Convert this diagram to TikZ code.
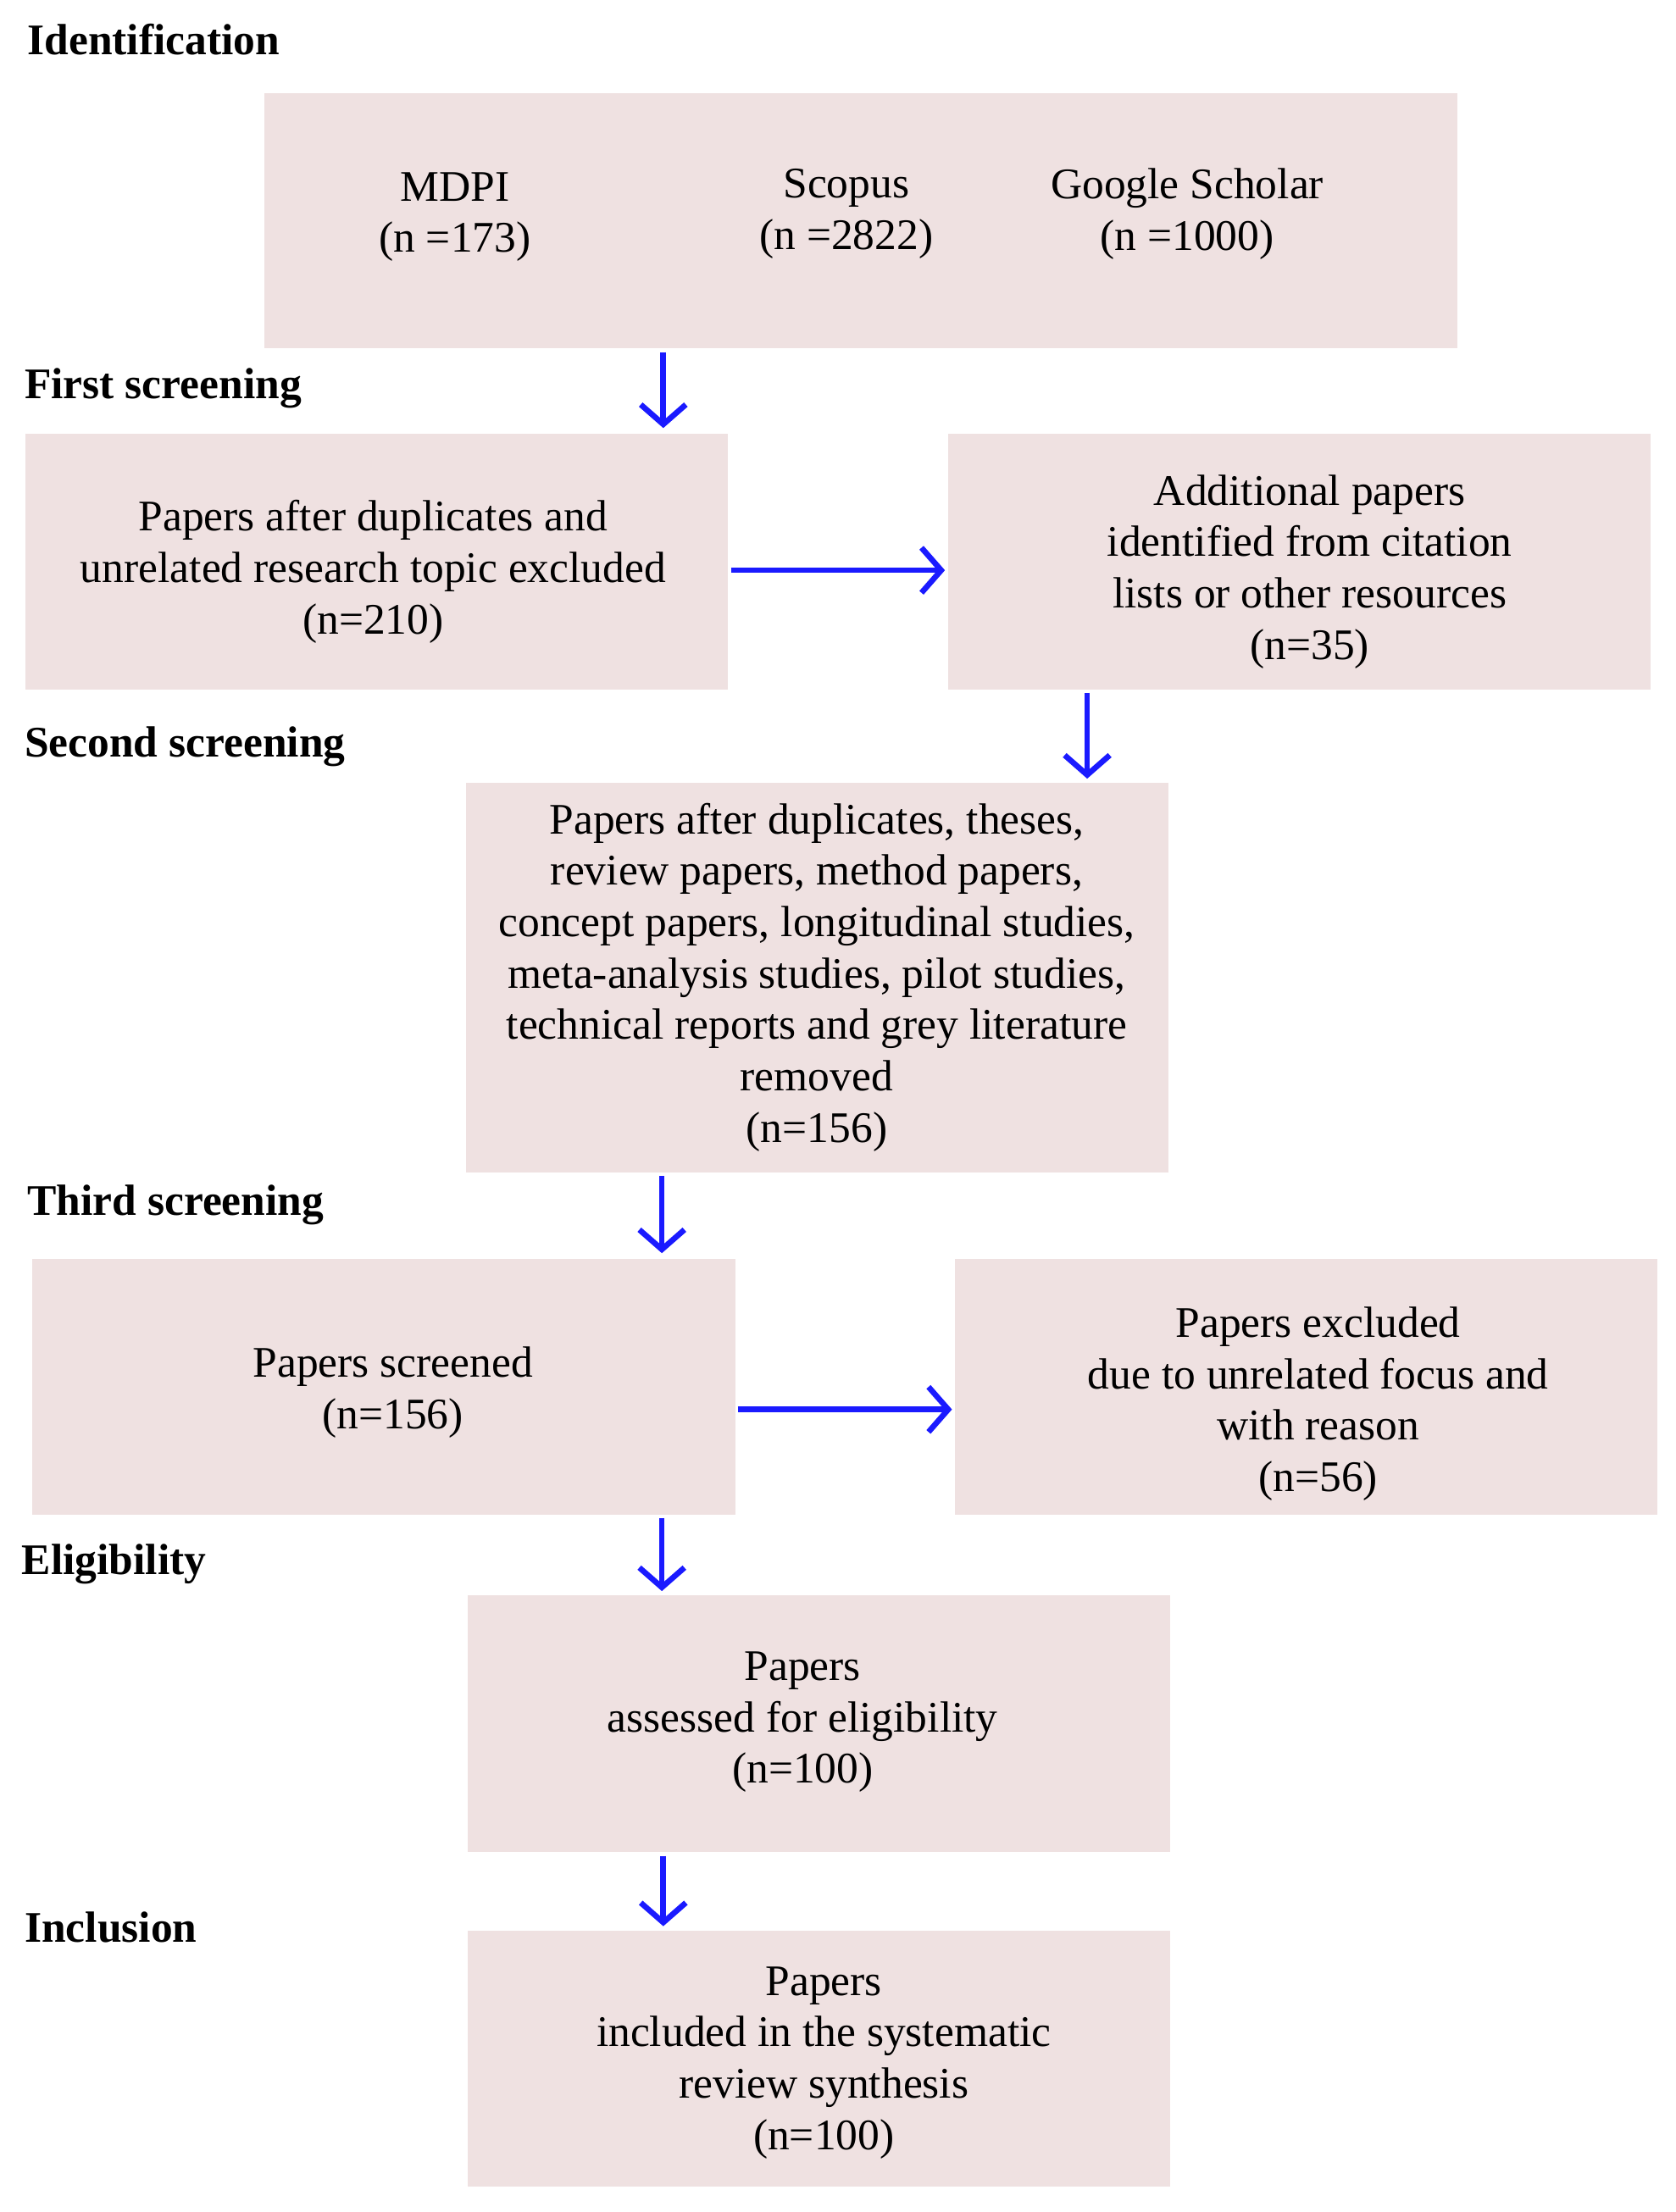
\documentclass[tikz,border=0pt]{standalone}
\usepackage{fontspec}
\setmainfont{Liberation Serif}
\usetikzlibrary{arrows.meta}
\definecolor{boxfill}{HTML}{EFE1E1}
\definecolor{arr}{HTML}{1A1AFF}
\begin{document}
\begin{tikzpicture}[x=1pt,y=-1pt,
  box/.style={fill=boxfill,draw=none,inner sep=0pt},
  txt/.style={align=center,font=\fontsize{31}{36.5}\selectfont},
  lab/.style={anchor=west,font=\fontsize{31}{34}\selectfont\bfseries},
  ar/.style={draw=arr,line width=4pt,-{Straight Barb[length=14pt,width=32pt,line width=4pt]}}]
\useasboundingbox (0,0) rectangle (1190,1571);
\fill[white] (0,0) rectangle (1190,1571);
% boxes
\path[box] (188,66) rectangle (1035,247);
\path[box] (18,308) rectangle (517,490);
\path[box] (673,308) rectangle (1172,490);
\path[box] (331,556) rectangle (830,833);
\path[box] (23,894) rectangle (522,1076);
\path[box] (678,894) rectangle (1177,1076);
\path[box] (332,1133) rectangle (831,1315);
\path[box] (332,1371) rectangle (831,1553);
% labels
\node[lab] (l1) at (16,28) {Identification};
\node[lab] (l2) at (14,276) {First screening};
\node[lab] (l3) at (14,530) {Second screening};
\node[lab] (l4) at (16,856) {Third screening};
\node[lab] (l5) at (12,1111) {Eligibility};
\node[lab] (l6) at (14,1369) {Inclusion};
% texts
\node[txt] (m) at (323,154) {MDPI\\(n =173)};
\node[txt] (s) at (601,152) {Scopus\\(n =2822)};
\node[txt] (g) at (843,152) {Google Scholar\\(n =1000)};
\node[txt] (a) at (265,406) {Papers after duplicates and\\unrelated research topic excluded\\(n=210)};
\node[txt] (b) at (930,406) {Additional papers\\identified from citation\\lists or other resources\\(n=35)};
\node[txt] (c) at (580,694) {Papers after duplicates, theses,\\review papers, method papers,\\concept papers, longitudinal studies,\\meta-analysis studies, pilot studies,\\technical reports and grey literature\\removed\\(n=156)};
\node[txt] (d) at (279,989) {Papers screened\\(n=156)};
\node[txt] (e) at (936,997) {Papers excluded\\due to unrelated focus and\\with reason\\(n=56)};
\node[txt] (f) at (570,1223) {Papers\\assessed for eligibility\\(n=100)};
\node[txt] (h) at (585,1465) {Papers\\included in the systematic\\review synthesis\\(n=100)};
% arrows
\coordinate (p1) at (471,250); \coordinate (p2) at (471,304);
\coordinate (p3) at (519,405); \coordinate (p4) at (671,405);
\coordinate (p5) at (772,492); \coordinate (p6) at (772,553);
\coordinate (p7) at (470,835); \coordinate (p8) at (470,890);
\coordinate (p9) at (524,1001); \coordinate (p10) at (676,1001);
\coordinate (p11) at (470,1078); \coordinate (p12) at (470,1130);
\coordinate (p13) at (471,1318); \coordinate (p14) at (471,1368);
\draw[ar] (p1) -- (p2);
\draw[ar] (p3) -- (p4);
\draw[ar] (p5) -- (p6);
\draw[ar] (p7) -- (p8);
\draw[ar] (p9) -- (p10);
\draw[ar] (p11) -- (p12);
\draw[ar] (p13) -- (p14);
\end{tikzpicture}
\end{document}
